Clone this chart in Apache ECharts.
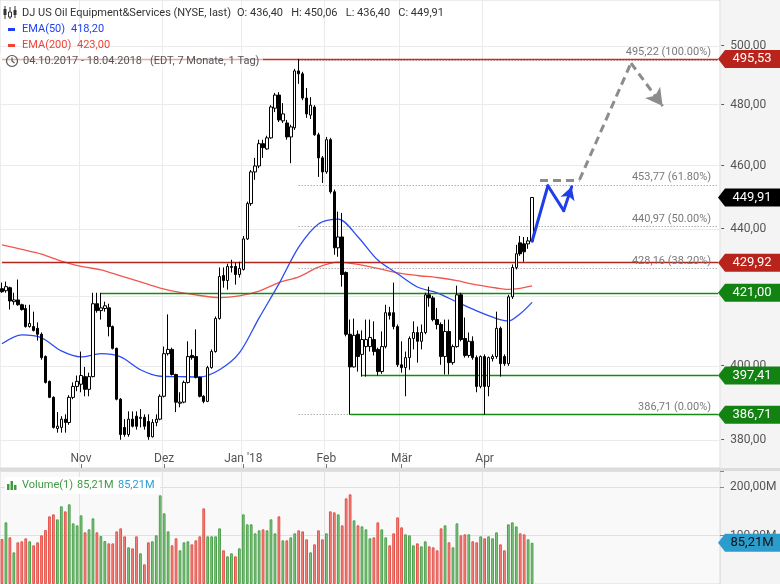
<!DOCTYPE html>
<html>
<head>
<meta charset="utf-8">
<script src="https://cdn.jsdelivr.net/npm/echarts@6/dist/echarts.min.js"></script>
<style>
  html, body { margin: 0; padding: 0; background: #f4f4f4; }
  #chart { width: 780px; height: 584px; }
</style>
</head>
<body>
<div id="chart"></div>
<script>
// DJ US Oil Equipment&Services, daily, 04.10.2017 - 18.04.2018
const opens = [
  422.2, 421.6, 422.5, 418.4, 418.9, 417.5, 416.4, 411.2, 411.2, 410.7,
  409.0, 402.7, 395.8, 391.4, 383.0, 383.3, 385.5, 384.6, 391.4, 394.4,
  395.0, 397.1, 393.6, 397.1, 417.8, 415.8, 416.4, 416.6, 411.2, 405.0,
  390.9, 383.3, 381.4, 385.5, 386.3, 385.7, 386.0, 384.9, 380.8, 384.6,
  385.5, 391.7, 403.5, 404.7, 397.7, 389.8, 390.1, 395.5, 403.0, 402.7,
  396.9, 391.7, 390.3, 399.6, 404.1, 413.5, 426.1, 424.6, 428.5, 428.8,
  426.4, 427.9, 437.1, 448.0, 458.0, 459.9, 467.1, 465.4, 469.0, 478.8,
  483.2, 474.6, 473.9, 469.3, 472.3, 491.4, 490.4, 482.2, 476.5, 479.2,
  470.0, 462.5, 458.0, 468.4, 451.7, 434.4, 437.7, 427.0, 409.0, 399.8,
  409.0, 403.3, 405.5, 405.5, 407.5, 404.7, 398.5, 405.5, 415.2, 415.2,
  411.2, 400.4, 399.6, 402.4, 407.8, 409.5, 407.0, 409.5, 420.4, 419.5,
  413.2, 411.8, 402.7, 409.8, 401.0, 405.5, 420.4, 407.8, 403.0, 407.0,
  402.4, 394.4, 402.7, 394.4, 402.1, 402.7, 410.7, 402.7, 400.7, 419.8,
  428.5, 435.9, 435.6, 435.6, 436.40
];
const closes = [
  421.3, 422.8, 418.6, 418.9, 417.5, 416.1, 411.2, 412.1, 410.1, 409.0,
  402.4, 395.5, 391.4, 383.3, 383.6, 385.5, 384.6, 391.4, 394.4, 395.8,
  397.4, 393.6, 397.1, 417.8, 415.8, 416.6, 417.2, 411.2, 405.0, 390.9,
  381.4, 381.4, 385.5, 383.6, 383.6, 386.0, 383.6, 380.8, 384.6, 385.5,
  391.7, 403.5, 404.7, 397.7, 390.1, 390.1, 395.5, 402.7, 402.4, 396.9,
  391.7, 390.3, 399.6, 404.1, 413.5, 425.8, 424.6, 428.8, 428.8, 426.4,
  428.2, 437.1, 448.0, 458.0, 459.9, 467.1, 465.8, 469.0, 479.2, 483.2,
  474.9, 476.9, 469.3, 472.6, 491.4, 490.4, 482.2, 476.9, 479.8, 470.0,
  462.5, 458.0, 468.4, 451.7, 434.4, 437.7, 426.4, 409.0, 399.8, 408.7,
  402.7, 407.5, 407.5, 408.1, 404.1, 398.5, 405.5, 415.2, 414.4, 411.2,
  400.4, 399.6, 402.4, 407.8, 409.5, 407.0, 409.5, 420.4, 419.5, 413.2,
  411.8, 402.7, 409.8, 401.0, 405.5, 420.4, 407.5, 403.0, 407.0, 402.4,
  394.4, 402.7, 394.4, 402.4, 402.7, 410.7, 400.7, 400.7, 419.8, 428.5,
  432.6, 432.6, 433.2, 436.5, 449.91
];
const lows = [
  421.0, 421.0, 416.1, 417.5, 417.2, 415.8, 410.9, 410.9, 409.8, 407.2,
  401.8, 395.2, 391.2, 383.0, 381.9, 381.9, 381.9, 384.0, 390.9, 393.1,
  392.8, 391.7, 391.7, 396.9, 415.2, 413.2, 415.5, 408.4, 404.7, 390.6,
  380.0, 380.8, 380.8, 383.3, 382.7, 383.3, 382.7, 380.0, 380.6, 383.6,
  385.2, 391.4, 403.0, 397.4, 387.4, 388.7, 389.8, 395.2, 401.8, 396.6,
  391.4, 389.8, 390.1, 399.3, 403.8, 413.2, 422.5, 421.9, 427.0, 423.4,
  425.5, 427.6, 436.8, 447.3, 455.5, 459.2, 462.5, 465.1, 468.7, 477.5,
  474.2, 473.9, 468.4, 460.8, 471.6, 487.0, 481.5, 475.6, 475.2, 469.7,
  456.4, 454.5, 457.4, 451.1, 432.3, 431.7, 422.8, 408.4, 386.71, 399.6,
  398.5, 397.1, 397.1, 404.1, 403.0, 397.4, 397.9, 405.0, 413.2, 410.4,
  399.8, 398.2, 391.7, 399.0, 404.7, 401.0, 404.7, 409.0, 416.9, 412.7,
  410.4, 400.4, 397.7, 397.7, 400.4, 405.2, 407.0, 402.4, 402.4, 401.8,
  392.8, 393.9, 386.71, 391.7, 401.3, 402.1, 397.1, 400.1, 400.1, 419.2,
  427.9, 432.0, 430.2, 434.1, 436.40
];
const highs = [
  424.0, 424.3, 422.8, 421.0, 424.9, 417.8, 417.5, 417.5, 415.5, 412.4,
  409.5, 403.0, 396.0, 391.7, 387.4, 386.3, 386.8, 392.0, 395.5, 397.4,
  404.1, 399.8, 398.2, 421.0, 421.0, 421.0, 418.4, 417.8, 411.5, 405.2,
  391.2, 385.5, 387.6, 387.6, 387.6, 388.2, 386.8, 386.8, 385.5, 386.8,
  392.2, 405.5, 414.7, 405.2, 397.9, 392.8, 396.0, 407.0, 404.7, 410.4,
  397.1, 392.0, 400.1, 404.7, 414.1, 428.5, 428.5, 429.6, 430.8, 429.9,
  430.2, 438.0, 448.6, 458.6, 462.5, 468.4, 468.4, 469.7, 479.8, 483.9,
  484.2, 480.5, 474.9, 473.3, 492.1, 495.53, 491.1, 485.6, 482.5, 479.8,
  470.7, 463.1, 469.3, 469.0, 452.4, 445.5, 445.1, 427.3, 413.2, 413.5,
  410.1, 410.1, 413.2, 413.2, 412.7, 405.2, 409.8, 417.5, 416.9, 424.0,
  411.8, 407.0, 404.1, 408.4, 412.7, 411.2, 411.8, 421.0, 422.8, 420.1,
  416.6, 412.4, 413.2, 413.2, 406.1, 423.1, 421.0, 413.8, 409.5, 408.4,
  403.0, 403.0, 403.3, 402.7, 403.3, 415.5, 411.2, 403.3, 420.4, 429.4,
  435.3, 438.0, 437.7, 437.7, 450.06
];
// volume in millions
const volumes = [
  93.0, 127.4, 96.4, 65.4, 86.1, 88.2, 94.4, 88.2, 79.9, 86.1,
  100.6, 111.6, 139.8, 143.9, 133.6, 160.5, 150.1, 164.6, 125.3, 121.2,
  141.9, 106.7, 112.9, 135.7, 106.7, 99.2, 88.8, 84.0, 84.0, 108.8,
  115.0, 98.5, 75.8, 73.7, 98.5, 63.4, 40.6, 86.1, 88.2, 100.6,
  183.2, 146.0, 108.8, 79.9, 94.4, 69.6, 86.1, 88.2, 82.0, 90.2,
  98.5, 156.3, 98.5, 98.5, 98.5, 115.0, 69.6, 57.2, 63.4, 57.2,
  73.7, 143.9, 123.3, 123.3, 104.7, 110.9, 112.9, 110.9, 133.6, 104.7,
  139.8, 90.2, 90.2, 96.4, 104.7, 110.9, 108.8, 92.3, 65.4, 82.0,
  110.9, 92.3, 104.7, 150.1, 148.1, 143.9, 121.2, 177.0, 185.3, 131.5,
  121.2, 119.1, 112.9, 94.4, 96.4, 127.4, 112.9, 96.4, 79.9, 104.7,
  137.7, 117.1, 102.6, 100.6, 79.9, 84.0, 77.8, 88.2, 77.8, 75.8,
  69.6, 115.0, 121.2, 86.1, 75.8, 125.3, 100.6, 102.6, 102.6, 88.2,
  86.1, 98.5, 94.4, 98.5, 94.4, 106.7, 82.0, 69.6, 123.3, 127.4,
  119.1, 104.7, 102.6, 92.3, 85.21
];

// moving averages at these trading days
const emaDays = [0, 5, 10, 15, 20, 25, 30, 35, 40, 45, 50, 55, 60, 65, 70, 75, 80, 85, 90, 95, 100, 105, 110, 115, 120, 125, 128, 131, 134];
const ema50 = [406.3, 408.8, 408.0, 404.3, 402.6, 403.5, 402.6, 399.0, 397.2, 397.1, 397.0, 399.0, 403.7, 413.7, 423.6, 434.6, 441.7, 443.2, 437.7, 430.7, 426.6, 422.7, 421.0, 418.3, 415.7, 413.5, 412.8, 414.9, 418.2];
const ema200 = [435.3, 433.9, 432.5, 430.4, 428.8, 427.8, 426.0, 424.2, 422.4, 421.1, 420.2, 419.6, 420.1, 421.5, 424.0, 425.7, 428.6, 430.1, 429.4, 428.2, 426.9, 426.1, 425.5, 424.6, 423.3, 422.4, 422.0, 422.3, 423.0];

// horizontal lines drawn in the chart: level and the trading day they start at
const lineLevels = [495.53, 429.92, 421.00, 397.41, 386.71];
const lineFrom = [0, 0, 25, 91, 88];
const fibLevels = [495.22, 453.77, 440.97, 428.16, 386.71];
const fibPct = ['100.00%', '61.80%', '50.00%', '38.20%', '0.00%'];
const fibFrom = 75;

// price tags on the right axis
const priceTags = [495.53, 449.91, 429.92, 421.00, 397.41, 386.71];
const volumeTag = 85.21;

// projected path, [trading day, price]
const bluePath = [[134, 436.4], [138, 453.6], [142, 445.8], [144, 453.3]];
const grayPath = [[136, 455.5], [146, 455.5], [159, 494.1], [167, 479.5]];

const priceTicks = [380, 400, 420, 440, 460, 480, 500];
const volTicks = [100, 200];
const tickMonths = ['2017-11', '2017-12', '2018-01', '2018-02', '2018-03', '2018-04'];
const tickLabels = ['Nov', 'Dez', "Jan '18", 'Feb', 'Mär', 'Apr'];
const holidays = ['2017-11-23', '2017-12-25', '2018-01-01', '2018-01-15', '2018-02-19', '2018-03-30', '2018-05-28'];
const slotCount = 182; // trading days plus empty room for the projection

// Styles
const FONT = 'Roboto, "Liberation Sans", Arial, sans-serif';
const tagColors = ['#b8231b', '#000000', '#b8231b', '#128312', '#128312', '#128312'];
const levelColors = ['#d02a20', '#b3261e', '#148a14', '#148a14', '#148a14'];
const upVol = { color: '#86c986', borderColor: '#4a9f4a', borderWidth: 1 };
const downVol = { color: '#f38a84', borderColor: '#e2524a', borderWidth: 1 };

const de = v => v.toFixed(2).replace('.', ',');

// trading days (weekends and exchange holidays skipped)
const dates = [];
(function () {
    const d = new Date(Date.UTC(2017, 9, 4));
    while (dates.length < slotCount) {
        const wd = d.getUTCDay();
        const key = d.toISOString().slice(0, 10);
        if (wd !== 0 && wd !== 6 && holidays.indexOf(key) < 0) dates.push(key);
        d.setUTCDate(d.getUTCDate() + 1);
    }
})();
const lastSlot = dates[slotCount - 1];

// first trading day of each labelled month
const monthStart = {};
dates.forEach((d, i) => {
    if (i === 0 || dates[i - 1].slice(0, 7) === d.slice(0, 7)) return;
    const k = tickMonths.indexOf(d.slice(0, 7));
    if (k >= 0) monthStart[i] = tickLabels[k];
});
const isMonth = i => monthStart[i] !== undefined;

const candles = opens.map((o, i) => [o, closes[i], lows[i], highs[i]]);
const volData = volumes.map((v, i) => ({
    value: v,
    itemStyle: closes[i] >= opens[i] ? upVol : downVol
}));

const pathSegments = (path, lineStyle, arrowSize) => {
    const segs = [];
    for (let k = 0; k < path.length - 1; k++) {
        const last = k === path.length - 2;
        segs.push([
            { coord: [dates[path[k][0]], path[k][1]], lineStyle: lineStyle, symbol: 'none' },
            { coord: [dates[path[k + 1][0]], path[k + 1][1]], symbol: last ? 'arrow' : 'none', symbolSize: arrowSize }
        ]);
    }
    return segs;
};

const tagSymbol = 'path://M0,9L7,0L62,0L62,18L7,18Z';
const legendFont = '11px ' + FONT;

const chart = echarts.init(document.getElementById('chart'));

const option = {
    animation: false,
    backgroundColor: '#f4f4f4',
    textStyle: { fontFamily: FONT },
    grid: [
        { left: 0, right: 60, top: 0, height: 468, show: true, backgroundColor: '#ffffff',
          borderColor: '#dadada', borderWidth: 1, outerBoundsMode: 'none', containLabel: false },
        { left: 0, right: 60, top: 471, bottom: 0, show: true, backgroundColor: '#f9f9f9',
          borderColor: '#dadada', borderWidth: 1, outerBoundsMode: 'none', containLabel: false }
    ],
    xAxis: [
        {
            type: 'category', gridIndex: 0, data: dates, boundaryGap: true,
            axisLine: { show: false },
            axisTick: { show: true, inside: true, length: 4, alignWithLabel: true,
                        interval: i => isMonth(i), lineStyle: { color: '#777' } },
            axisLabel: { show: true, inside: true, margin: 3, interval: i => isMonth(i),
                         formatter: (v, i) => monthStart[i] || '', color: '#555', fontSize: 12 },
            splitLine: { show: true, interval: i => isMonth(i), lineStyle: { color: '#ebebeb' } }
        },
        {
            type: 'category', gridIndex: 1, data: dates, boundaryGap: true,
            axisLine: { show: false }, axisTick: { show: false }, axisLabel: { show: false },
            splitLine: { show: true, interval: i => isMonth(i), lineStyle: { color: '#e2e2e2' } }
        }
    ],
    yAxis: [
        {
            type: 'log', logBase: 10, gridIndex: 0, position: 'right', min: 372.6, max: 516.3,
            axisLine: { show: false }, axisTick: { show: false }, axisLabel: { show: false },
            splitLine: { show: false }
        },
        {
            type: 'value', gridIndex: 1, position: 'right', min: 0, max: 233.5, interval: 100,
            axisLine: { show: false },
            axisTick: { show: true, length: 4, lineStyle: { color: '#888' } },
            axisLabel: { margin: 4, color: '#555', fontSize: 12,
                         formatter: v => volTicks.indexOf(v) >= 0 ? '  ' + de(v) + 'M' : '' },
            splitLine: { show: true, lineStyle: { color: '#e0e0e0' } }
        }
    ],
    series: [
        {
            name: 'EMA(200)', type: 'line', xAxisIndex: 0, yAxisIndex: 0, z: 3,
            data: emaDays.map((d, k) => [dates[d], ema200[k]]),
            smooth: 0.3, symbol: 'none', lineStyle: { color: '#f0574f', width: 1.3 },
            markLine: {
                silent: true, symbol: 'none', z: 1, animation: false,
                lineStyle: { color: '#ebebeb', width: 1, type: 'solid' },
                label: { show: true, position: 'end', distance: 1, color: '#555', fontSize: 12,
                         formatter: p => '-  ' + de(p.value) },
                data: priceTicks.map(v => ({ yAxis: v }))
            }
        },
        {
            name: 'EMA(50)', type: 'line', xAxisIndex: 0, yAxisIndex: 0, z: 3,
            data: emaDays.map((d, k) => [dates[d], ema50[k]]),
            smooth: 0.3, symbol: 'none', lineStyle: { color: '#2a4cf5', width: 1.3 },
            markLine: {
                silent: true, symbol: 'none', z: 4, animation: false,
                label: { show: false },
                data: fibLevels.map((v, k) => [
                    { coord: [dates[fibFrom], v],
                      lineStyle: { color: '#8a8a8a', width: 1, type: [1, 2] },
                      label: { show: true, position: 'insideEndTop', distance: 2, padding: [0, 5, 0, 0],
                               color: '#7a7a7a', fontSize: 11, formatter: de(v) + ' (' + fibPct[k] + ')' } },
                    { coord: [lastSlot, v] }
                ]).concat(lineLevels.map((v, k) => [
                    { coord: [dates[lineFrom[k]], v],
                      lineStyle: { color: levelColors[k], width: 1.4, type: 'solid' } },
                    { coord: [lastSlot, v] }
                ]))
            }
        },
        {
            name: 'Kurs', type: 'candlestick', xAxisIndex: 0, yAxisIndex: 0, z: 5,
            data: candles, barWidth: 3,
            itemStyle: { color: '#ffffff', color0: '#000000', borderColor: '#000000', borderColor0: '#000000', borderWidth: 1 },
            markLine: {
                silent: true, symbol: 'none', z: 6, animation: false,
                label: { show: false },
                data: pathSegments(bluePath, { color: '#1e3fe8', width: 3, type: 'solid', cap: 'round' }, [11, 13])
                    .concat(pathSegments(grayPath, { color: '#8c8c8c', width: 3, type: [8, 5] }, [14, 17]))
            },
            markPoint: {
                silent: true, z: 10, symbol: tagSymbol, symbolSize: [62, 18], symbolOffset: [31, 0],
                label: { show: true, position: 'inside', color: '#ffffff', fontSize: 13, offset: [3, 0] },
                data: priceTags.map((v, k) => ({
                    coord: [lastSlot, v],
                    itemStyle: { color: tagColors[k] },
                    label: { formatter: de(v) }
                }))
            }
        },
        {
            name: 'Volume(1)', type: 'bar', xAxisIndex: 1, yAxisIndex: 1,
            data: volData, barWidth: '70%',
            markPoint: {
                silent: true, z: 10, symbol: tagSymbol, symbolSize: [62, 18], symbolOffset: [31, 0],
                label: { show: true, position: 'inside', color: '#111', fontSize: 13, offset: [3, 0] },
                data: [{ coord: [lastSlot, volumeTag], itemStyle: { color: '#2b9ccb' },
                         label: { formatter: de(volumeTag) + 'M' } }]
            }
        }
    ],
    graphic: [
        // pane separator
        { type: 'rect', z: 50, shape: { x: 0, y: 468, width: 780, height: 3 }, style: { fill: '#dcdcdc' } },
        // legend, price pane
        { type: 'rect', z: 50, shape: { x: 0, y: 53, width: 263, height: 16 }, style: { fill: 'rgba(255,255,255,0.6)' } },
        { type: 'line', z: 51, shape: { x1: 5, y1: 6, x2: 5, y2: 19 }, style: { stroke: '#333', lineWidth: 1 } },
        { type: 'rect', z: 51, shape: { x: 3.5, y: 9, width: 3, height: 6 }, style: { fill: '#333' } },
        { type: 'line', z: 51, shape: { x1: 10, y1: 7, x2: 10, y2: 19 }, style: { stroke: '#333', lineWidth: 1 } },
        { type: 'rect', z: 51, shape: { x: 8.5, y: 12, width: 3, height: 5 }, style: { fill: '#fff', stroke: '#333', lineWidth: 1 } },
        { type: 'line', z: 51, shape: { x1: 15, y1: 6, x2: 15, y2: 18 }, style: { stroke: '#333', lineWidth: 1 } },
        { type: 'rect', z: 51, shape: { x: 13.5, y: 10, width: 3, height: 5 }, style: { fill: '#333' } },
        { type: 'text', z: 51, x: 22, y: 13, style: { text: 'DJ US Oil Equipment&Services (NYSE, last)', fill: '#333', font: legendFont, verticalAlign: 'middle' } },
        { type: 'text', z: 51, x: 237, y: 13, style: { text: 'O: 436,40   H: 450,06   L: 436,40   C: 449,91', fill: '#333', font: legendFont, verticalAlign: 'middle' } },
        { type: 'rect', z: 51, shape: { x: 8, y: 28, width: 7, height: 3 }, style: { fill: '#1f3ff5' } },
        { type: 'text', z: 51, x: 22, y: 29.5, style: { text: 'EMA(50)', fill: '#1f3ff5', font: legendFont, verticalAlign: 'middle' } },
        { type: 'text', z: 51, x: 71, y: 29.5, style: { text: '418,20', fill: '#1f3ff5', font: legendFont, verticalAlign: 'middle' } },
        { type: 'rect', z: 51, shape: { x: 8, y: 44, width: 7, height: 3 }, style: { fill: '#ee4438' } },
        { type: 'text', z: 51, x: 22, y: 45.5, style: { text: 'EMA(200)', fill: '#ee4438', font: legendFont, verticalAlign: 'middle' } },
        { type: 'text', z: 51, x: 77, y: 45.5, style: { text: '423,00', fill: '#ee4438', font: legendFont, verticalAlign: 'middle' } },
        { type: 'circle', z: 51, shape: { cx: 12, cy: 61, r: 5.5 }, style: { fill: 'none', stroke: '#555', lineWidth: 1.2 } },
        { type: 'polyline', z: 51, shape: { points: [[12, 57.5], [12, 61], [14.5, 63]] }, style: { fill: 'none', stroke: '#555', lineWidth: 1.2 } },
        { type: 'text', z: 51, x: 23, y: 61.5, style: { text: '04.10.2017 - 18.04.2018', fill: '#555', font: legendFont, verticalAlign: 'middle' } },
        { type: 'text', z: 51, x: 150, y: 61.5, style: { text: '(EDT, 7 Monate, 1 Tag)', fill: '#555', font: legendFont, verticalAlign: 'middle' } },
        // legend, volume pane
        { type: 'rect', z: 50, shape: { x: 5, y: 477, width: 155, height: 17 }, style: { fill: '#ffffff' } },
        { type: 'rect', z: 51, shape: { x: 7, y: 484, width: 2.5, height: 6 }, style: { fill: '#3f9a3f' } },
        { type: 'rect', z: 51, shape: { x: 10.5, y: 481, width: 2.5, height: 9 }, style: { fill: '#3f9a3f' } },
        { type: 'rect', z: 51, shape: { x: 14, y: 485, width: 2.5, height: 5 }, style: { fill: '#3f9a3f' } },
        { type: 'text', z: 51, x: 22, y: 485.5, style: { text: 'Volume(1)', fill: '#3f9a3f', font: legendFont, verticalAlign: 'middle' } },
        { type: 'text', z: 51, x: 77, y: 485.5, style: { text: '85,21M', fill: '#3f9a3f', font: legendFont, verticalAlign: 'middle' } },
        { type: 'text', z: 51, x: 118, y: 485.5, style: { text: '85,21M', fill: '#2a9fd0', font: legendFont, verticalAlign: 'middle' } }
    ]
};

chart.setOption(option);
</script>
</body>
</html>
